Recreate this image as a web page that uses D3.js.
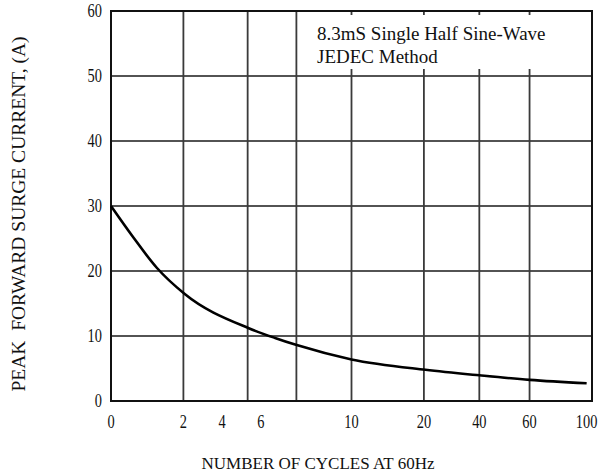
<!DOCTYPE html>
<html><head><meta charset="utf-8">
<script src="https://cdn.jsdelivr.net/npm/d3@7"></script>
<style>
html,body{margin:0;padding:0;background:#fff;}
svg text{font-family:"Liberation Serif","Times New Roman",serif;fill:#111;}
</style></head>
<body>
<svg id="chart" width="598" height="473"></svg>
<script>
// Data (x = number of cycles, log axis; y = amps)
const curveCycles = [1, 1.22, 1.55, 2.02, 3.74, 4.81, 5.92, 10, 20.3, 34, 55, 95];
const curveAmps   = [30, 25.5, 20.5, 16.5, 11.2, 9.7, 8.6, 6.4, 4.8, 3.95, 3.25, 2.72];
const xGridValues = [2, 3.7, 5.9, 10, 20, 34, 55];
const xTickValues = [1, 2, 2.9, 4.2, 10, 20, 34, 55, 95];
const xTickLabels = ["0", "2", "4", "6", "10", "20", "40", "60", "100"];
const yTickValues = [0, 10, 20, 30, 40, 50, 60];
const noteLines = ["8.3mS Single Half Sine-Wave", "JEDEC Method"];
const xTitle = "NUMBER OF CYCLES AT 60Hz";
const yTitle = "PEAK  FORWARD SURGE CURRENT, (A)";

const W = 598, H = 473;
const m = {left:111, top:11, right:6, bottom:72};
const svg = d3.select("#chart");
const x = d3.scaleLog().domain([1,100]).range([m.left, W - m.right]);
const y = d3.scaleLinear().domain([0,60]).range([H - m.bottom, m.top]);

// horizontal grid
svg.append("g").selectAll("line").data(yTickValues.slice(1,-1)).join("line")
  .attr("x1", x(1)).attr("x2", x(100))
  .attr("y1", d => y(d)).attr("y2", d => y(d))
  .attr("stroke", "#1a1a1a").attr("stroke-width", 1.4);

// vertical grid
svg.append("g").selectAll("line").data(xGridValues).join("line")
  .attr("x1", d => x(d)).attr("x2", d => x(d))
  .attr("y1", y(0)).attr("y2", y(60))
  .attr("stroke", "#3a3a3a").attr("stroke-width", 1.8);

// note box (white background over grid)
svg.append("rect").attr("x", 300).attr("y", y(60) + 4)
  .attr("width", x(100) - 303).attr("height", y(50) - y(60) - 11)
  .attr("fill", "#fff");
svg.append("g").selectAll("text").data(noteLines).join("text")
  .attr("x", 317).attr("y", (d,i) => 40 + i*23)
  .attr("font-size", 19)
  .text(d => d);

// frame
svg.append("rect").attr("x", x(1)).attr("y", y(60))
  .attr("width", x(100) - x(1)).attr("height", y(0) - y(60))
  .attr("fill", "none").attr("stroke", "#111").attr("stroke-width", 2);

// curve
const line = d3.line().x(d => x(d[0])).y(d => y(d[1])).curve(d3.curveMonotoneX);
svg.append("path").datum(curveCycles.map((c,i) => [c, curveAmps[i]]))
  .attr("d", line).attr("fill", "none").attr("stroke", "#000").attr("stroke-width", 2.6);

// y tick labels
svg.append("g").selectAll("text").data(yTickValues).join("text")
  .attr("transform", d => `translate(102,${y(d) + 6}) scale(0.8,1)`)
  .attr("text-anchor", "end").attr("font-size", 18)
  .text(d => d);

// x tick labels
svg.append("g").selectAll("text").data(xTickValues).join("text")
  .attr("transform", d => `translate(${x(d)},${y(0) + 27}) scale(0.8,1)`)
  .attr("text-anchor", "middle").attr("font-size", 18)
  .text((d,i) => xTickLabels[i]);

// titles
svg.append("text").attr("x", 318).attr("y", 469)
  .attr("text-anchor", "middle").attr("font-size", 17)
  .text(xTitle);
svg.append("text").attr("transform", `translate(25,214) rotate(-90)`)
  .attr("text-anchor", "middle").attr("font-size", 19.5)
  .attr("xml:space", "preserve").style("white-space", "pre")
  .text(yTitle);
</script>
</body></html>
